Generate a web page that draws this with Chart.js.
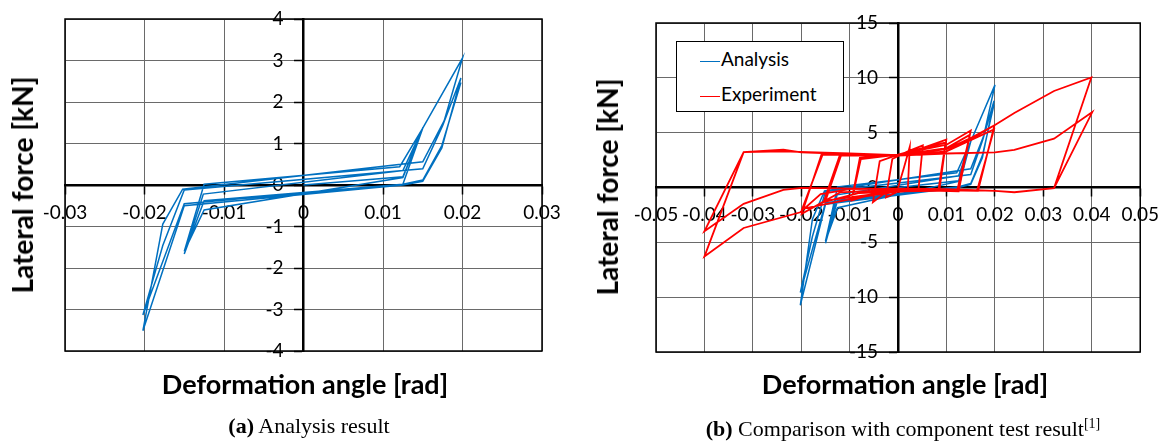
<!DOCTYPE html>
<html>
<head>
<meta charset="utf-8">
<script src="https://cdn.jsdelivr.net/npm/chart.js@4.4.1/dist/chart.umd.min.js"></script>
<style>
  html, body { margin: 0; padding: 0; background: #fff; }
  #page { position: relative; width: 1167px; height: 446px; overflow: hidden; background: #fff; }
  canvas { position: absolute; top: 0; }
  .ytitle, .xtitle { position: absolute; font-family: Lato, "Open Sans", sans-serif; font-weight: bold; white-space: nowrap; color: #000; }
  .ytitle { font-size: 28px; line-height: 28px; transform: translate(-50%, -50%) rotate(-90deg); }
  .xtitle { font-size: 27px; line-height: 27px; transform: translate(-50%, -50%); }
  .caption { position: absolute; transform: translate(-50%, -50%); font-family: "Liberation Serif", "Times New Roman", serif; font-size: 22px; line-height: 22px; white-space: nowrap; color: #000; }
  .caption sup { font-size: 14px; vertical-align: 8px; }
  #legend { position: absolute; left: 676px; top: 41px; width: 166px; height: 69px; border: 1.5px solid #000; background: #fff; font-family: Lato, sans-serif; font-size: 19px; }
  #legend .row { position: absolute; left: 23px; height: 20px; line-height: 20px; white-space: nowrap; }
  #legend .swatch { display: inline-block; width: 20px; height: 0; border-top: 1.5px solid; vertical-align: middle; margin-right: 1px; }
</style>
</head>
<body>
<div id="page">
  <canvas id="chartA" width="583" height="446" style="left:0px"></canvas>
  <canvas id="chartB" width="584" height="446" style="left:583px"></canvas>

  <div class="ytitle" style="left:22px; top:185px">Lateral force [kN]</div>
  <div class="ytitle" style="left:607px; top:187px">Lateral force [kN]</div>
  <div class="xtitle" style="left:305px; top:383px">Deformation angle [rad]</div>
  <div class="xtitle" style="left:905px; top:383px">Deformation angle [rad]</div>
  <div class="caption" style="left:309px; top:426px"><b>(a)</b> Analysis result</div>
  <div class="caption" style="left:903px; top:426px"><b>(b)</b> Comparison with component test result<sup>[1]</sup></div>

  <div id="legend">
    <div class="row" style="top:7px"><span class="swatch" style="border-color:#0070c0"></span>Analysis</div>
    <div class="row" style="top:42px"><span class="swatch" style="border-color:#ff0000"></span>Experiment</div>
  </div>
</div>

<script>
// tick values
const xTicksA = [-0.03, -0.02, -0.01, 0, 0.01, 0.02, 0.03];
const yTicksA = [-4, -3, -2, -1, 0, 1, 2, 3, 4];
const xTicksB = [-0.05, -0.04, -0.03, -0.02, -0.01, 0, 0.01, 0.02, 0.03, 0.04, 0.05];
const yTicksB = [-15, -10, -5, 0, 5, 10, 15];

// analysis result (deformation angle [rad])
const analysisAngle = [0, 0.0125, 0.015, 0.0125, -0.0125, -0.015, -0.0126, 0.0125, 0.015, 0.0125,
    -0.0125, -0.015, -0.0125, 0.0121, 0.015, 0.02, 0.0177, 0.015, -0.0152, -0.0177,
    -0.0202, -0.015, 0.0125, 0.015, 0.0174, 0.0198, 0.0175, 0.015, -0.015, -0.0177,
    -0.0202, -0.015, 0.0125, 0.015, 0.0174, 0.0198];
// lateral force [kN], chart (a)
const analysisForceA = [0, 0.2, 1.37, 0.02, -0.38, -1.66, -0.22, 0.35, 1.37, 0.18,
    -0.6, -1.6, 0.02, 0.44, 1.37, 3.06, 1.55, 0.56, -0.1, -0.94,
    -3.51, -0.5, 0.0, 0.09, 0.89, 2.58, 1.43, 0.39, -0.12, -1.46,
    -3.13, -0.45, 0.02, 0.12, 0.95, 2.47];
// lateral force [kN], chart (b)
const analysisForceB = [0, 0.61, 4.19, 0.06, -1.16, -5.08, -0.67, 1.07, 4.19, 0.55,
    -1.84, -4.9, 0.06, 1.35, 4.19, 9.36, 4.74, 1.71, -0.31, -2.88,
    -10.74, -1.53, 0, 0.28, 2.72, 7.89, 4.38, 1.19, -0.37, -4.47,
    -9.58, -1.38, 0.06, 0.37, 2.91, 7.56];

// component test
const expAngle = [0, 0.0012, 0.0024, 0.002, 0, -0.0025, -0.0012, 0.002, 0.0051, 0.0042,
    0, -0.003, -0.0052, -0.0038, 0, 0.005, 0.00995, 0.0085, 0.003, -0.005,
    -0.0096, -0.0079, 0, 0.0098, 0.0083, 0, -0.0095, -0.0077, 0, 0.01,
    0.015, 0.0125, 0.005, -0.008, -0.0154, -0.012, 0, 0.01, 0.0148, 0.0122,
    0, -0.015, -0.0118, 0, 0.01, 0.015, 0.0199, 0.0165, 0.01, 0,
    -0.012, -0.0199, -0.0158, 0, 0.01, 0.0198, 0.0163, 0, -0.0198, -0.0156,
    0, 0.01, 0.015, 0.02, 0.024, 0.0322, 0.0399, 0.0322, 0.024, 0.02,
    0.01, 0, -0.01, -0.016, -0.0202, -0.0319, -0.04, -0.0319, -0.0237, -0.02,
    -0.01, 0, 0.01, 0.02, 0.024, 0.0322, 0.0401, 0.0322, 0.024, 0.02,
    0.01, 0, -0.0199, -0.0237, -0.0319, -0.04, -0.0319, -0.0237, -0.01, 0];
const expForce = [0, 1.8, 3.7, -0.2, -0.35, -0.9, 2.6, 3.3, 3.84, -0.2,
    -0.3, -0.6, -1.34, 2.4, 3.0, 3.6, 4.36, -0.3, -0.3, -0.55,
    -1.19, 2.7, 3.0, 4.1, -0.3, -0.35, -1.0, 2.6, 3.0, 3.9,
    5.2, -0.35, -0.25, -0.5, -1.34, 3.0, 2.95, 3.6, 4.8, -0.3,
    -0.3, -1.2, 2.9, 2.95, 3.5, 4.5, 5.67, -0.3, -0.25, -0.2,
    -0.45, -2.4, 3.05, 2.9, 3.3, 5.3, -0.3, -0.2, -1.95, 3.0,
    2.9, 3.3, 4.4, 5.7, 6.8, 8.8, 10.03, -0.06, -0.43, -0.3,
    -0.15, -0.1, -0.15, -0.6, -2.26, -3.69, -6.3, 3.23, 3.44, 3.2,
    3.05, 2.9, 3.1, 3.2, 3.44, 4.45, 6.88, -0.06, -0.45, -0.3,
    -0.2, -0.15, -0.03, -0.21, -1.49, -3.99, 3.23, 3.3, 3.1, 2.95];

const BLUE = '#0070c0';
const RED = '#ff0000';
const GRID = '#6a6a6a';

function toPoints(xs, ys) {
    return xs.map((x, i) => ({ x: x, y: ys[i] }));
}

// outer frame and the y labels next to the vertical axis
const framePlugin = {
    id: 'framePlugin',
    beforeDatasetsDraw(chart) {
        const ctx = chart.ctx;
        const ys = chart.scales.y;
        const x0 = chart.scales.x.getPixelForValue(0);
        ctx.save();
        ctx.font = '19px Lato';
        ctx.fillStyle = '#000';
        ctx.textAlign = 'right';
        ctx.textBaseline = 'middle';
        ys.ticks.forEach(t => {
            ctx.fillText(String(t.value), x0 - 20, ys.getPixelForValue(t.value));
        });
        ctx.restore();
    },
    afterDraw(chart) {
        const a = chart.chartArea;
        const ctx = chart.ctx;
        ctx.save();
        ctx.strokeStyle = '#000';
        ctx.lineWidth = 1.5;
        ctx.strokeRect(a.left, a.top, a.right - a.left, a.bottom - a.top);
        ctx.restore();
    }
};

function makeScales(xMin, xMax, xTicks, yMin, yMax, yTicks) {
    return {
        x: {
            type: 'linear', min: xMin, max: xMax,
            position: { y: 0 },
            afterBuildTicks: s => { s.ticks = xTicks.map(v => ({ value: v })); },
            ticks: {
                color: '#000', padding: 8,
                font: { family: 'Lato', size: 19 },
                maxRotation: 0, autoSkip: false,
                callback: v => String(v)
            },
            grid: { color: GRID, lineWidth: 1, tickLength: 8, tickColor: '#000', tickWidth: 1.5 },
            border: { color: '#000', width: 2.5 }
        },
        y: {
            type: 'linear', min: yMin, max: yMax,
            position: { x: 0 },
            afterBuildTicks: s => { s.ticks = yTicks.map(v => ({ value: v })); },
            ticks: { display: false },
            grid: { color: GRID, lineWidth: 1, tickLength: 8, tickColor: '#000', tickWidth: 1.5 },
            border: { color: '#000', width: 2.5 }
        }
    };
}

const baseOptions = {
    responsive: false,
    animation: false,
    plugins: { legend: { display: false }, tooltip: { enabled: false } },
    elements: { point: { radius: 0 }, line: { tension: 0 } }
};

new Chart(document.getElementById('chartA'), {
    type: 'scatter',
    data: {
        datasets: [{
            label: 'Analysis',
            data: toPoints(analysisAngle, analysisForceA),
            showLine: true,
            borderColor: BLUE,
            borderWidth: 1.5,
            pointRadius: 0
        }]
    },
    options: Object.assign({}, baseOptions, {
        layout: { padding: { left: 65, right: 41, top: 19, bottom: 95 } },
        scales: makeScales(-0.03, 0.03, xTicksA, -4, 4, yTicksA)
    }),
    plugins: [framePlugin]
});

new Chart(document.getElementById('chartB'), {
    type: 'scatter',
    data: {
        datasets: [{
            label: 'Experiment',
            data: toPoints(expAngle, expForce),
            showLine: true,
            borderColor: RED,
            borderWidth: 1.8,
            pointRadius: 0
        }, {
            label: 'Analysis',
            data: toPoints(analysisAngle, analysisForceB),
            showLine: true,
            borderColor: BLUE,
            borderWidth: 1.5,
            pointRadius: 0
        }]
    },
    options: Object.assign({}, baseOptions, {
        layout: { padding: { left: 73, right: 25, top: 23, bottom: 94 } },
        scales: makeScales(-0.05, 0.05, xTicksB, -15, 15, yTicksB)
    }),
    plugins: [framePlugin]
});
</script>
</body>
</html>
